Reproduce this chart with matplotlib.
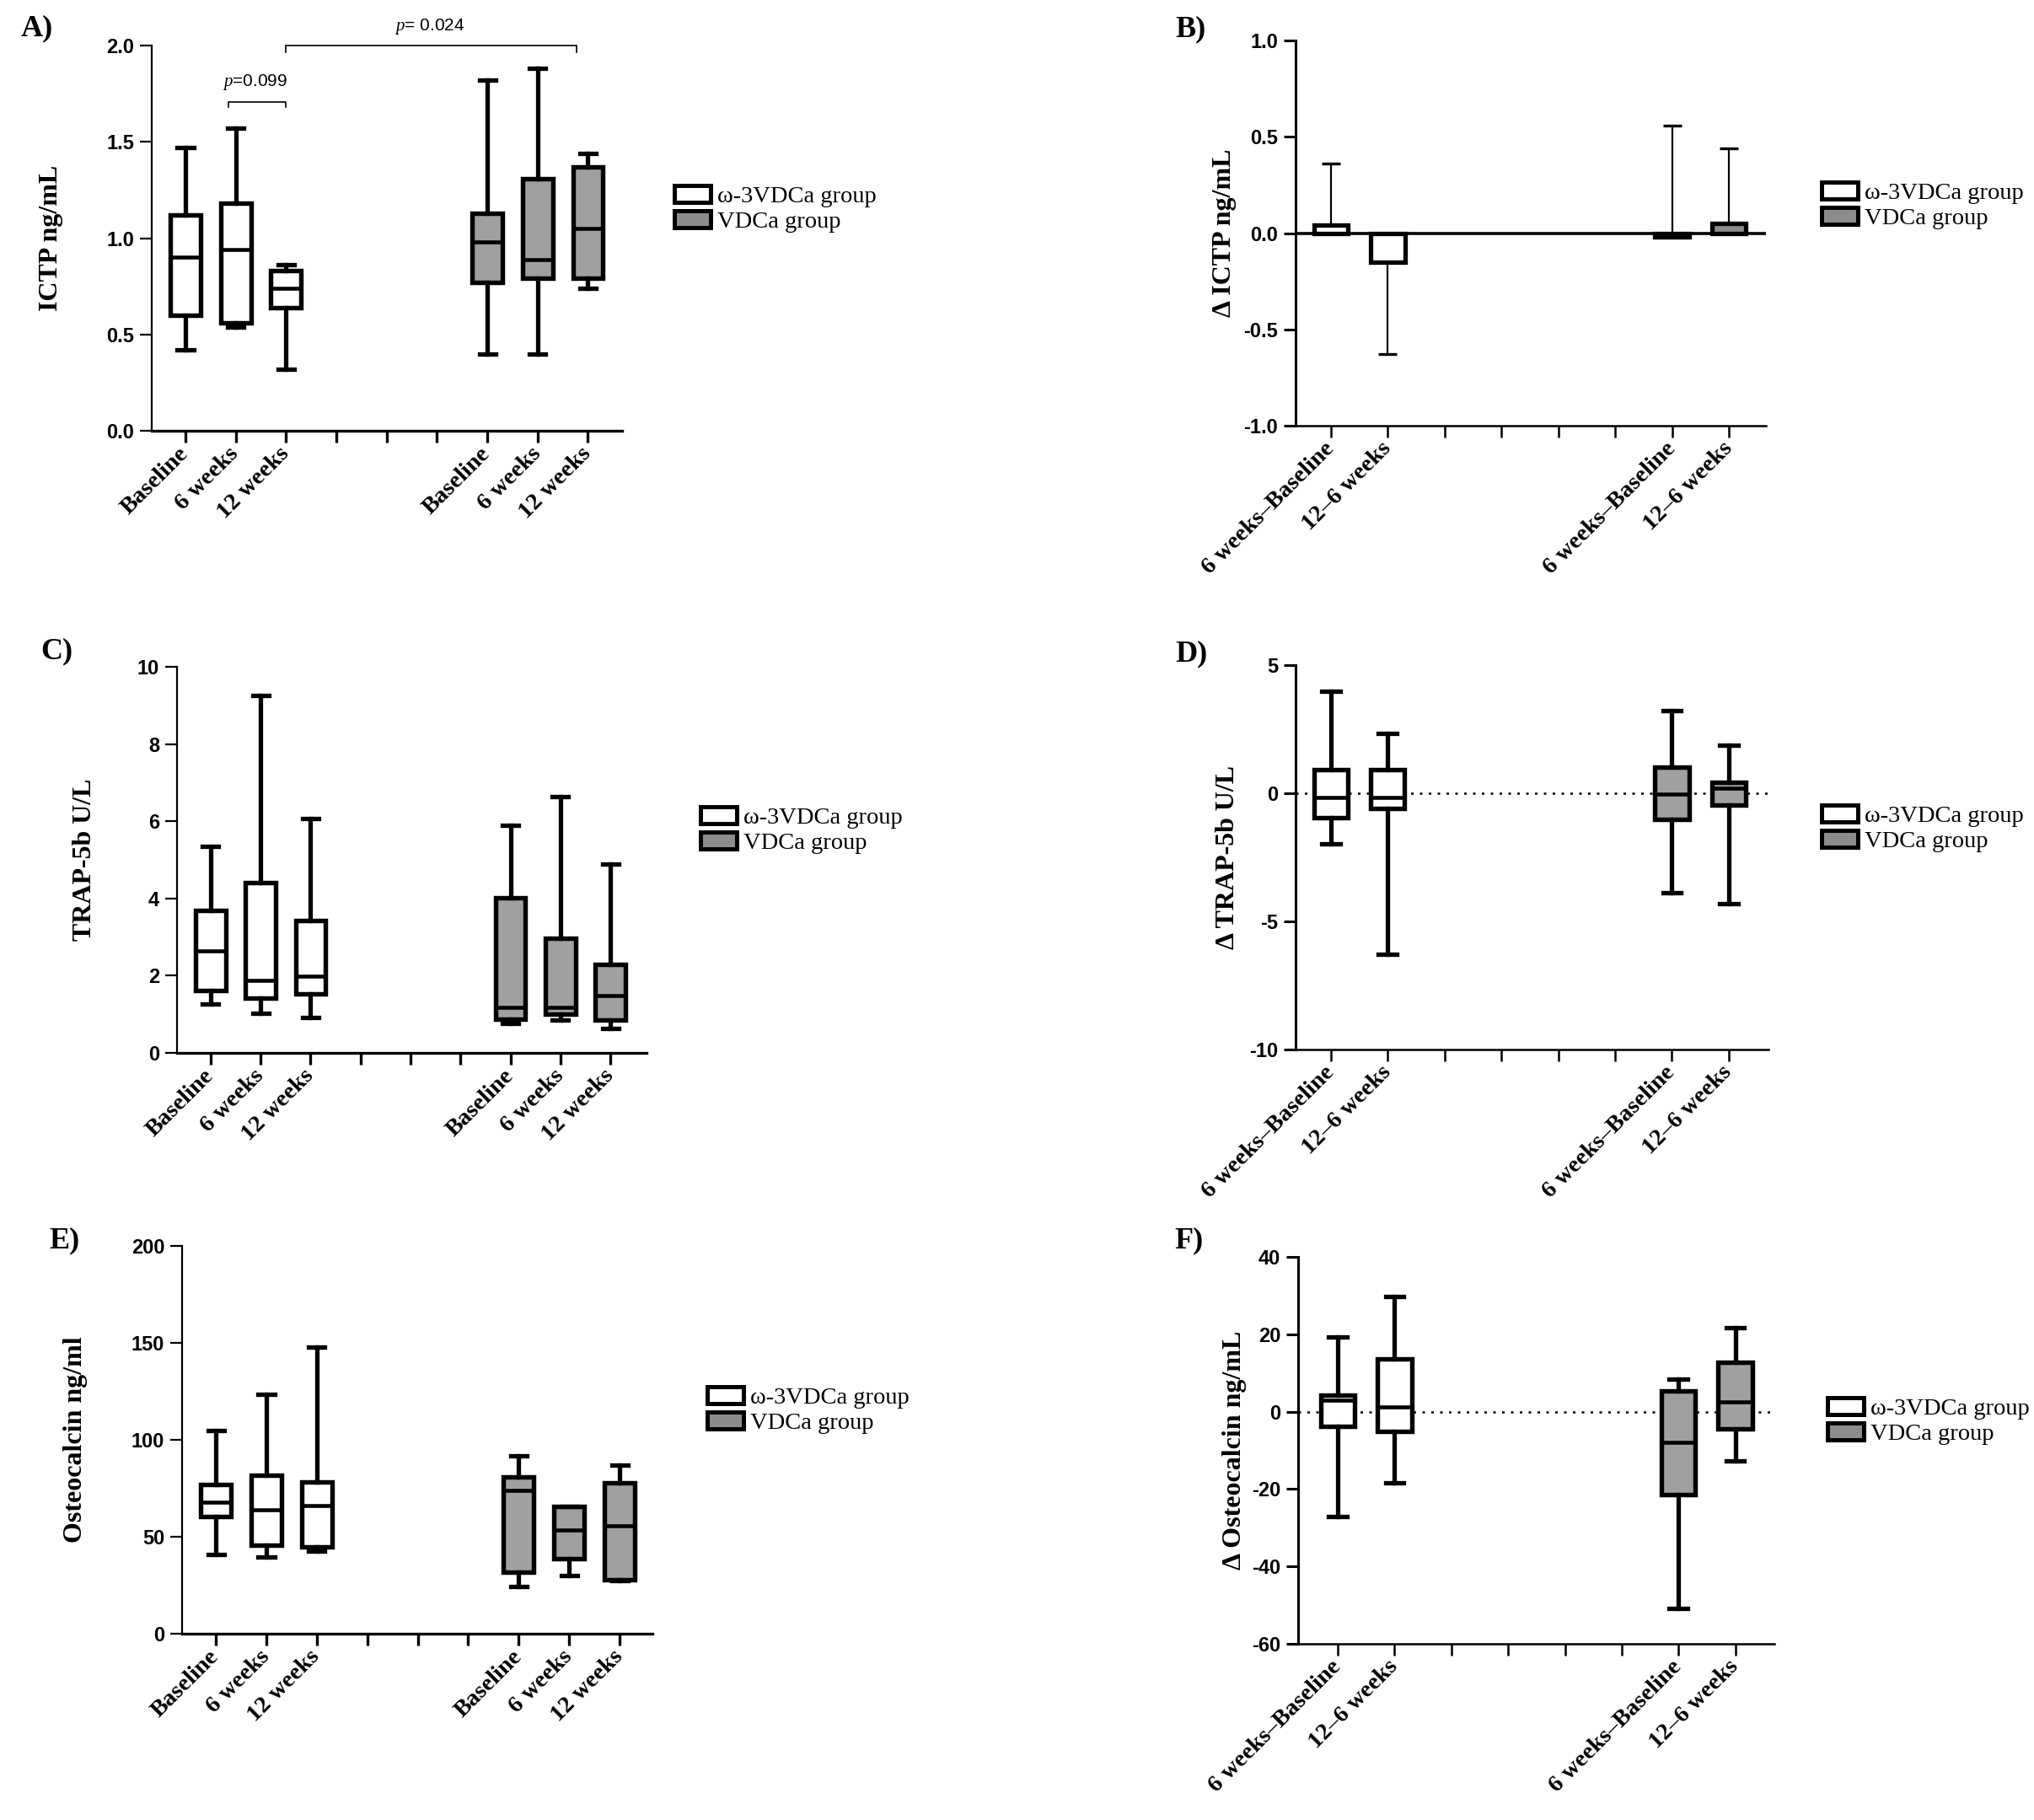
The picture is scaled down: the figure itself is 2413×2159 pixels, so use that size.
import matplotlib
matplotlib.use("Agg")
import matplotlib.pyplot as plt
from matplotlib.patches import Patch

plt.rcParams['axes.unicode_minus'] = False
plt.rcParams['mathtext.fontset'] = 'custom'
plt.rcParams['mathtext.it'] = 'Liberation Serif:italic'
plt.rcParams['mathtext.rm'] = 'Liberation Sans'

W, H = 2413, 2159

time_labels = ["Baseline", "6 weeks", "12 weeks"]
change_labels = ["6 weeks\u2013Baseline", "12\u20136 weeks"]
groups = ["\u03c9-3VDCa group", "VDCa group"]

# five-number summaries: [whisker low, Q1, median, Q3, whisker high]
ictp_omega = [[0.42, 0.60, 0.90, 1.12, 1.47],
              [0.54, 0.56, 0.94, 1.18, 1.57],
              [0.32, 0.64, 0.74, 0.83, 0.86]]
ictp_vdca = [[0.40, 0.77, 0.98, 1.13, 1.82],
             [0.40, 0.79, 0.89, 1.31, 1.88],
             [0.74, 0.79, 1.05, 1.37, 1.44]]

trap_omega = [[1.27, 1.62, 2.64, 3.69, 5.36],
              [1.02, 1.43, 1.87, 4.40, 9.26],
              [0.91, 1.53, 1.99, 3.42, 6.08]]
trap_vdca = [[0.77, 0.87, 1.17, 4.01, 5.90],
             [0.85, 1.00, 1.17, 2.96, 6.63],
             [0.64, 0.85, 1.48, 2.30, 4.90]]

oc_omega = [[41.0, 60.5, 67.7, 76.9, 104.9],
            [39.7, 45.7, 63.7, 81.9, 123.4],
            [42.5, 45.0, 66.2, 78.4, 147.8]]
oc_vdca = [[24.2, 31.8, 74.1, 80.9, 91.7],
           [30.2, 38.8, 53.5, 65.6, 65.8],
           [27.4, 28.0, 55.8, 77.9, 87.0]]

# changes (panel B is bars: mean and end of one-sided error bar)
d_ictp_mean = [0.04, -0.15, -0.02, 0.05]
d_ictp_err_end = [0.36, -0.63, 0.56, 0.44]

d_trap_omega = [[-1.98, -0.97, -0.16, 0.91, 3.97],
                [-6.28, -0.60, -0.16, 0.91, 2.35]]
d_trap_vdca = [[-3.88, -1.02, -0.04, 1.02, 3.23],
               [-4.32, -0.46, 0.19, 0.43, 1.87]]

d_oc_omega = [[-27.2, -3.8, 2.9, 4.2, 19.2],
              [-18.4, -5.1, 1.2, 13.6, 29.8]]
d_oc_vdca = [[-50.8, -21.5, -7.9, 5.4, 8.4],
             [-12.8, -4.4, 2.6, 12.7, 21.7]]

box_gray = '#a0a0a3'
legend_gray = '#8c8c8c'
serif = 'Liberation Serif'
sans = 'Liberation Sans'

time_pos = [0, 1, 2, 6, 7, 8]
change_pos = [0, 1, 6, 7]
time_ticks = time_labels + ['', '', ''] + time_labels
change_ticks = change_labels + ['', '', '', ''] + change_labels

fig = plt.figure(figsize=(W / 100, H / 100), dpi=100, facecolor='white')


def place(l, r, t, b):
    return fig.add_axes([l / W, 1 - b / H, (r - l) / W, (b - t) / H])


def style(ax, xlim, ylim, yticks, fmt, ylabel, lx, xlabels, xw, yw):
    ax.set_xlim(*xlim)
    ax.set_ylim(*ylim)
    for s in ['top', 'right']:
        ax.spines[s].set_visible(False)
    ax.spines['left'].set_linewidth(yw)
    ax.spines['bottom'].set_linewidth(xw)
    ax.set_yticks(yticks, [fmt.format(v) for v in yticks],
                  fontfamily=sans, fontweight='bold', fontsize=17)
    ax.set_xticks(range(len(xlabels)), xlabels, rotation=45, ha='right',
                  va='center', rotation_mode='anchor', fontfamily=serif,
                  fontweight='bold', fontsize=20.5)
    ax.tick_params(axis='y', length=10, width=yw, pad=5)
    ax.tick_params(axis='x', length=10, width=xw, pad=7)
    ax.set_ylabel(ylabel, fontfamily=serif, fontweight='bold', fontsize=23,
                  va='center')
    ax.yaxis.set_label_coords(lx, 0.5)


def boxes(ax, summaries, positions, color):
    stats = [dict(whislo=s[0], q1=s[1], med=s[2], q3=s[3], whishi=s[4],
                  fliers=[]) for s in summaries]
    ax.bxp(stats, positions=positions, widths=0.6, capwidths=0.32,
           patch_artist=True, showfliers=False, manage_ticks=False,
           boxprops=dict(facecolor=color, edgecolor='black', linewidth=3.9,
                         joinstyle='miter'),
           whiskerprops=dict(color='black', linewidth=3.8),
           capprops=dict(color='black', linewidth=3.8),
           medianprops=dict(color='black', linewidth=3.3))


def legend(x, y):
    handles = [Patch(facecolor='white', edgecolor='black', linewidth=3.6),
               Patch(facecolor=legend_gray, edgecolor='black', linewidth=3.6)]
    fig.legend(handles, groups, loc='center left',
               bbox_to_anchor=(x / W, 1 - y / H), frameon=False,
               prop=dict(family=serif, size=20.5), handlelength=1.5,
               handleheight=0.7, handletextpad=0.3, labelspacing=0.12,
               borderpad=0, borderaxespad=0)


def letter(x, y, s):
    fig.text(x / W, 1 - y / H, s, fontfamily=serif, fontweight='bold',
             fontsize=26, ha='center', va='center')


# A) ICTP
ax = place(180, 738, 54, 511)
boxes(ax, ictp_omega, time_pos[:3], 'white')
boxes(ax, ictp_vdca, time_pos[3:], box_gray)
style(ax, (-0.67, 8.68), (0, 2), [0, 0.5, 1.0, 1.5, 2.0], '{:.1f}',
      'ICTP ng/mL', -0.215, time_ticks, 2.4, 1.6)
ax.plot([0.85, 0.85, 2, 2], [1.68, 1.707, 1.707, 1.68], color='black',
        lw=1.2, clip_on=False)
ax.text(1.38, 1.81, '$p$=0.099', fontfamily=sans, fontsize=15,
        ha='center', va='center')
ax.plot([2, 2, 7.78, 7.78], [1.965, 1.999, 1.999, 1.965], color='black',
        lw=1.2, clip_on=False)
ax.text(4.86, 2.10, '$p$= 0.024', fontfamily=sans, fontsize=15,
        ha='center', va='center', clip_on=False)
legend(800, 248)
letter(44, 34, 'A)')

# B) change in ICTP
ax = place(1537, 2095, 48, 505)
low = [max(0, m - e) for m, e in zip(d_ictp_mean, d_ictp_err_end)]
high = [max(0, e - m) for m, e in zip(d_ictp_mean, d_ictp_err_end)]
ax.errorbar(change_pos, d_ictp_mean, yerr=[low, high], fmt='none',
            ecolor='black', elinewidth=1.6, capsize=8, capthick=2.4, zorder=2)
ax.bar(change_pos, d_ictp_mean, width=0.6,
       color=['white', 'white', legend_gray, legend_gray],
       edgecolor='black', linewidth=3.8, zorder=3)
ax.axhline(0, color='black', lw=2.6, zorder=4)
style(ax, (-0.62, 7.65), (-1, 1), [-1.0, -0.5, 0.0, 0.5, 1.0], '{:.1f}',
      '\u0394 ICTP ng/mL', -0.152, change_ticks, 1.8, 2.2)
legend(2161, 244)
letter(1413, 35, 'B)')

# C) TRAP-5b
ax = place(210, 767, 791, 1249)
boxes(ax, trap_omega, time_pos[:3], 'white')
boxes(ax, trap_vdca, time_pos[3:], box_gray)
style(ax, (-0.67, 8.72), (0, 10), [0, 2, 4, 6, 8, 10], '{:d}',
      'TRAP-5b U/L', -0.197, time_ticks, 2.4, 1.6)
legend(831, 985)
letter(67, 773, 'C)')

# D) change in TRAP-5b
ax = place(1537, 2098, 789, 1245)
ax.axhline(0, color='black', lw=1.8, ls=(0, (1.2, 3.0)), zorder=1)
boxes(ax, d_trap_omega, change_pos[:2], 'white')
boxes(ax, d_trap_vdca, change_pos[2:], box_gray)
style(ax, (-0.62, 7.70), (-10, 5), [-10, -5, 0, 5], '{:d}',
      '\u0394 TRAP-5b U/L', -0.144, change_ticks, 1.8, 2.2)
legend(2161, 983)
letter(1413, 776, 'D)')

# E) Osteocalcin
ax = place(216, 774, 1478, 1938)
boxes(ax, oc_omega, time_pos[:3], 'white')
boxes(ax, oc_vdca, time_pos[3:], box_gray)
style(ax, (-0.67, 8.65), (0, 200), [0, 50, 100, 150, 200], '{:d}',
      'Osteocalcin ng/ml', -0.226, time_ticks, 2.4, 1.6)
legend(839, 1673)
letter(77, 1472, 'E)')

# F) change in Osteocalcin
ax = place(1540, 2105, 1491, 1950)
ax.axhline(0, color='black', lw=1.8, ls=(0, (1.2, 3.0)), zorder=1)
boxes(ax, d_oc_omega, change_pos[:2], 'white')
boxes(ax, d_oc_vdca, change_pos[2:], box_gray)
style(ax, (-0.70, 7.69), (-60, 40), [-60, -40, -20, 0, 20, 40], '{:d}',
      '\u0394 Osteocalcin ng/mL', -0.133, change_ticks, 1.8, 2.2)
legend(2168, 1686)
letter(1411, 1472, 'F)')

fig.savefig('out.png', dpi=100, facecolor='white')
